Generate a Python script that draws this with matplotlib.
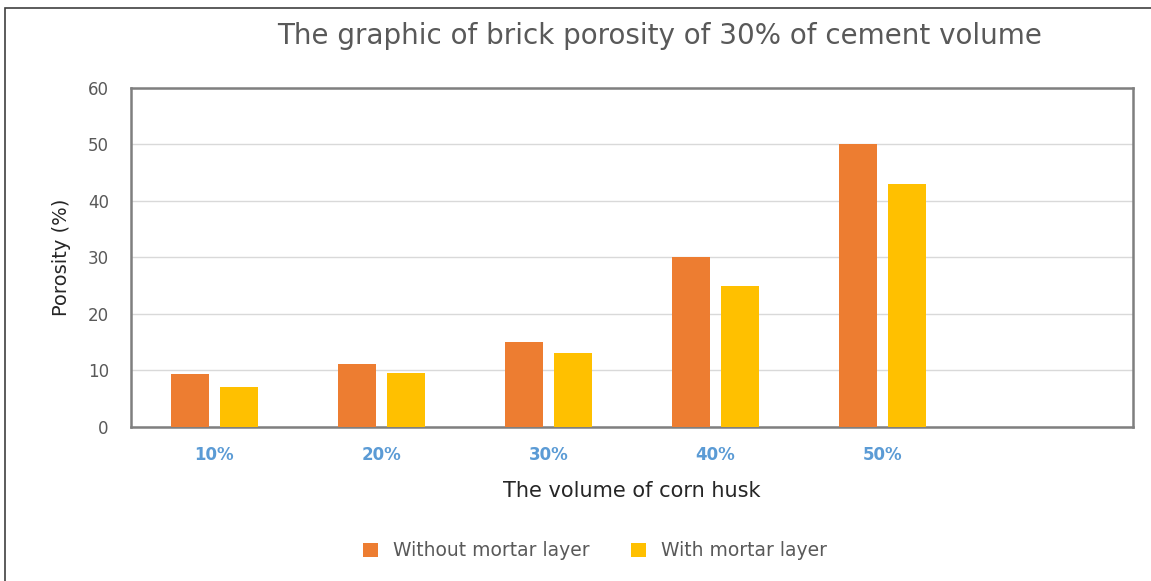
import numpy as np
import matplotlib.pyplot as plt
from matplotlib.patches import Rectangle

categories = ['10%', '20%', '30%', '40%', '50%', '']
without_mortar = [9.3, 11.2, 15, 30, 50, np.nan]
with_mortar = [7.1, 9.6, 13.1, 25, 43, np.nan]

orange = '#ED7D31'
yellow = '#FFC000'
gray_txt = '#595959'

fig = plt.figure(figsize=(11.51, 5.81), dpi=100)
fig.patches.append(Rectangle((0.004, -0.01), 1.2, 0.997, transform=fig.transFigure,
                             fill=False, edgecolor='#404040', linewidth=1.2))
ax = fig.add_axes([131 / 1151, 0.265, 1002 / 1151, 0.584])

x = np.arange(len(categories))
w = 0.23
ax.bar(x - 0.145, without_mortar, w, color=orange, label='Without mortar layer', zorder=3)
ax.bar(x + 0.145, with_mortar, w, color=yellow, label='With mortar layer', zorder=3)

ax.set_xlim(-0.5, len(categories) - 0.5)
ax.set_ylim(0, 60)
ax.set_yticks(range(0, 61, 10))
ax.yaxis.grid(True, color='#D9D9D9', linewidth=1, zorder=0)
ax.set_xticks(x)
ax.set_xticklabels(categories, color='#5B9BD5', fontweight='bold', fontsize=12)
ax.tick_params(axis='x', length=0, pad=14)
ax.tick_params(axis='y', length=0, labelsize=12, labelcolor=gray_txt, pad=16)
for s in ax.spines.values():
    s.set_color('#7F7F7F')
    s.set_linewidth(1.8)

ax.set_xlabel('The volume of corn husk', fontsize=15, color='#262626', labelpad=12)
ax.set_ylabel('Porosity (%)', fontsize=14, color='#262626', labelpad=12)
fig.text(0.573, 0.938, 'The graphic of brick porosity of 30% of cement volume',
         ha='center', va='center', fontsize=20, color=gray_txt)

ax.legend(loc='center', bbox_to_anchor=(595 / 1151, 30 / 581), bbox_transform=fig.transFigure,
          ncol=2, frameon=False, fontsize=13.5, handlelength=0.8, handleheight=0.8,
          columnspacing=2.2, labelcolor=gray_txt)

plt.savefig('out.png', dpi=100)
